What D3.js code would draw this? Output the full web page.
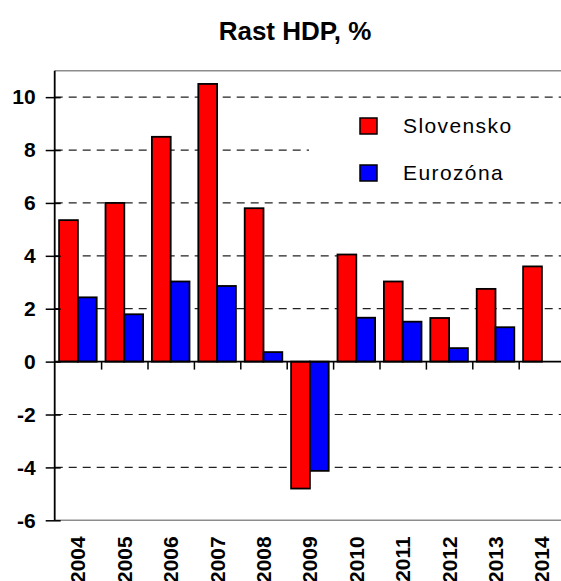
<!DOCTYPE html>
<html>
<head>
<meta charset="utf-8">
<script src="https://cdn.jsdelivr.net/npm/d3@7"></script>
<style>
  body { margin: 0; background: #fff; }
  svg { display: block; font-family: Arial, "Liberation Sans", sans-serif; }
  .ylab text, .xlab text { font-family: Arial, "Liberation Sans", sans-serif; font-weight: bold; font-size: 21px; fill: #000; }
</style>
</head>
<body>
<svg id="chart" width="561" height="581"></svg>
<script>
// data
var years = ["2004", "2005", "2006", "2007", "2008", "2009", "2010", "2011", "2012", "2013", "2014"]
var slovensko = [5.35, 6.0, 8.5, 10.5, 5.8, -4.8, 4.05, 3.03, 1.65, 2.75, 3.6]
var eurozona = [2.43, 1.79, 3.03, 2.86, 0.36, -4.13, 1.66, 1.51, 0.51, 1.3, null]
var seriesNames = ["Slovensko", "Eurozóna"]
var seriesColors = ["#ff0000", "#0000ff"]
var yTicks = [-6, -4, -2, 0, 2, 4, 6, 8, 10]
var gridTicks = [-4, -2, 2, 4, 6, 8, 10]

var svg = d3.select("#chart")
var W = 561
var plotLeft = 54.7, plotTop = 70.7, plotBottom = 520.3
var bandW = 46.4

var rows = years.map((yr, i) => ({ year: yr, values: [slovensko[i], eurozona[i]] }))

var x0 = d3.scaleBand().domain(years).range([plotLeft, plotLeft + bandW * years.length])
var x1 = d3.scaleBand().domain(seriesNames).range([x0.bandwidth() * 0.095, x0.bandwidth() * 0.905])
var xEdge = d3.scaleLinear().domain([0, years.length]).range(x0.range())
var y = d3.scaleLinear().domain([-6, 11]).range([plotBottom, plotTop])

// title
svg.append("text")
   .attr("x", 295)
   .attr("y", 40)
   .attr("text-anchor", "middle")
   .style("font-size", "26px")
   .style("font-weight", "bold")
   .text("Rast HDP, %")

// plot frame (top/bottom grey)
svg.append("line")
   .attr("x1", plotLeft).attr("x2", W)
   .attr("y1", plotTop).attr("y2", plotTop)
   .attr("stroke", "#8c8c8c").attr("stroke-width", 1.5)
svg.append("line")
   .attr("x1", plotLeft).attr("x2", W)
   .attr("y1", plotBottom).attr("y2", plotBottom)
   .attr("stroke", "#8c8c8c").attr("stroke-width", 1.5)

// dashed grid
svg.append("g")
   .selectAll("line")
   .data(gridTicks)
   .join("line")
   .attr("x1", plotLeft).attr("x2", W)
   .attr("y1", d => y(d)).attr("y2", d => y(d))
   .attr("stroke", "#222")
   .attr("stroke-width", 1.2)
   .attr("stroke-dasharray", "8,6")

// legend background hides part of grid
svg.append("rect")
   .attr("x", 309).attr("y", 106)
   .attr("width", W - 309).attr("height", 88)
   .attr("fill", "#fff")

// bars
var groups = svg.append("g")
   .selectAll("g")
   .data(rows)
   .join("g")
   .attr("transform", d => "translate(" + x0(d.year) + ",0)")

groups.selectAll("rect")
   .data(d => d.values.map((v, i) => ({ key: seriesNames[i], value: v, color: seriesColors[i] })).filter(d => d.value != null))
   .join("rect")
   .attr("x", d => x1(d.key))
   .attr("width", x1.bandwidth())
   .attr("y", d => y(Math.max(0, d.value)))
   .attr("height", d => Math.abs(y(d.value) - y(0)))
   .attr("fill", d => d.color)
   .attr("stroke", "#000")
   .attr("stroke-width", 1.8)

// zero line with ticks at band edges
var zeroAxis = svg.append("g")
   .attr("transform", "translate(0," + y(0) + ")")
   .call(d3.axisBottom(xEdge).tickValues(d3.range(1, years.length)).tickSize(8).tickFormat(""))
zeroAxis.select(".domain").attr("d", "M" + plotLeft + ",0H" + W).attr("stroke-width", 1.8)
zeroAxis.selectAll(".tick line").attr("stroke-width", 1.5)

// year labels at the bottom
var xAxis = svg.append("g")
   .attr("class", "xlab")
   .attr("transform", "translate(0," + plotBottom + ")")
   .call(d3.axisBottom(x0).tickSize(0))
xAxis.select(".domain").remove()
xAxis.selectAll("text")
   .attr("transform", "translate(0,16) rotate(-90)")
   .attr("x", 0).attr("y", 0)
   .attr("dy", "0.36em")
   .attr("text-anchor", "end")

// y axis
var yAxis = svg.append("g")
   .attr("class", "ylab")
   .attr("transform", "translate(" + plotLeft + ",0)")
   .call(d3.axisLeft(y).tickValues(yTicks).tickSize(9).tickPadding(10).tickFormat(d => String(d)))
yAxis.select(".domain").attr("d", "M0," + plotTop + "V" + plotBottom).attr("stroke-width", 1.8)
yAxis.selectAll(".tick line").attr("x1", 6).attr("stroke-width", 1.5)

// legend
var legend = svg.append("g")
   .selectAll("g")
   .data(seriesNames)
   .join("g")
   .attr("transform", (d, i) => "translate(360," + (118 + i * 47) + ")")
legend.append("rect")
   .attr("width", 17).attr("height", 16)
   .attr("fill", (d, i) => seriesColors[i])
   .attr("stroke", "#000").attr("stroke-width", 1.5)
legend.append("text")
   .attr("x", 43).attr("y", 15)
   .style("font-size", "21px")
   .style("letter-spacing", "1.4px")
   .text(d => d)
</script>
</body>
</html>
